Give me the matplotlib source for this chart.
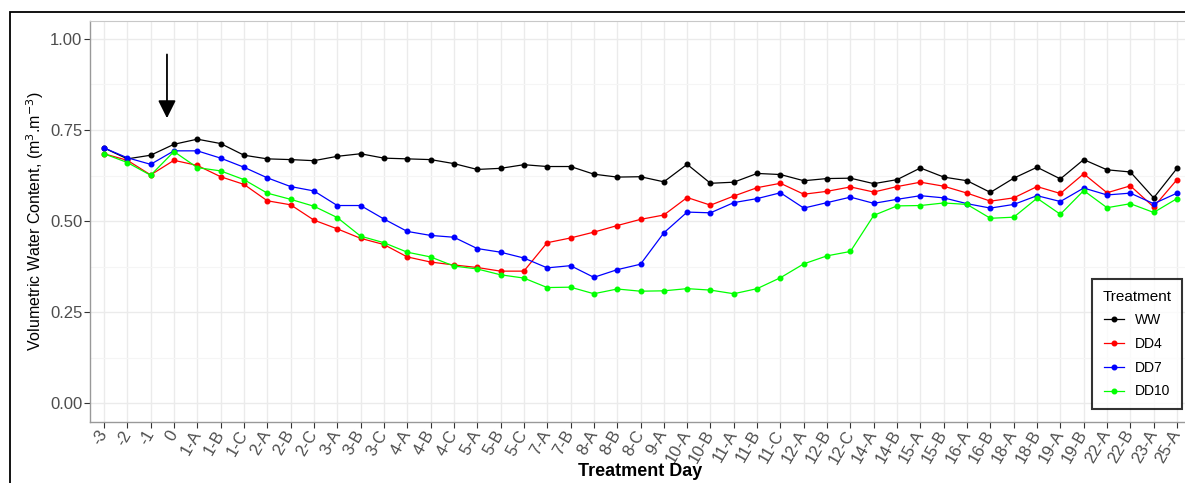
import matplotlib
matplotlib.use("Agg")
from matplotlib import pyplot as plt
from matplotlib.patches import Rectangle
import numpy as np

plt.rcParams['font.family'] = ['Liberation Sans', 'DejaVu Sans']

days = ["-3", "-2", "-1", "0", "1-A", "1-B", "1-C", "2-A", "2-B", "2-C",
        "3-A", "3-B", "3-C", "4-A", "4-B", "4-C", "5-A", "5-B", "5-C",
        "7-A", "7-B", "8-A", "8-B", "8-C", "9-A", "10-A", "10-B",
        "11-A", "11-B", "11-C", "12-A", "12-B", "12-C", "14-A", "14-B",
        "15-A", "15-B", "16-A", "16-B", "18-A", "18-B", "19-A", "19-B",
        "22-A", "22-B", "23-A", "25-A"]

ww = [0.701, 0.671, 0.681, 0.711, 0.725, 0.713, 0.681, 0.671, 0.669, 0.666,
      0.678, 0.685, 0.673, 0.671, 0.669, 0.658, 0.642, 0.645, 0.655,
      0.650, 0.650, 0.629, 0.621, 0.622, 0.608, 0.656, 0.604,
      0.607, 0.631, 0.628, 0.611, 0.617, 0.618, 0.603, 0.614,
      0.646, 0.621, 0.611, 0.579, 0.618, 0.648, 0.616, 0.669,
      0.641, 0.635, 0.564, 0.645]
dd4 = [0.685, 0.667, 0.627, 0.667, 0.653, 0.622, 0.601, 0.556, 0.545, 0.503,
       0.479, 0.453, 0.436, 0.402, 0.388, 0.380, 0.373, 0.363, 0.363,
       0.441, 0.454, 0.470, 0.488, 0.505, 0.517, 0.565, 0.544,
       0.569, 0.592, 0.604, 0.574, 0.582, 0.594, 0.580, 0.595,
       0.607, 0.596, 0.577, 0.555, 0.564, 0.595, 0.576, 0.630,
       0.578, 0.597, 0.539, 0.614]
dd7 = [0.701, 0.674, 0.656, 0.693, 0.693, 0.673, 0.648, 0.619, 0.595, 0.583,
       0.543, 0.543, 0.506, 0.472, 0.461, 0.456, 0.425, 0.415, 0.399,
       0.372, 0.378, 0.346, 0.367, 0.382, 0.468, 0.525, 0.523,
       0.551, 0.562, 0.578, 0.536, 0.551, 0.566, 0.549, 0.560,
       0.570, 0.564, 0.548, 0.536, 0.546, 0.570, 0.554, 0.591,
       0.572, 0.577, 0.548, 0.577]
dd10 = [0.685, 0.661, 0.626, 0.691, 0.647, 0.638, 0.614, 0.577, 0.560, 0.541,
        0.510, 0.459, 0.441, 0.415, 0.402, 0.377, 0.369, 0.353, 0.344,
        0.318, 0.319, 0.301, 0.314, 0.308, 0.309, 0.315, 0.311,
        0.301, 0.315, 0.345, 0.383, 0.405, 0.417, 0.516, 0.542,
        0.543, 0.550, 0.546, 0.508, 0.511, 0.563, 0.519, 0.584,
        0.537, 0.548, 0.524, 0.562]

treatments = ["WW", "DD4", "DD7", "DD10"]
colors = ["black", "#FF0000", "#0000FF", "#00FF00"]

W, H = 1185, 483
fig = plt.figure(figsize=(W / 100, H / 100), dpi=100)

# outer frame of the original image (cut at right/bottom)
fig.patches.append(Rectangle((10 / W, -0.05), 1.2, (H - 12) / H + 0.05,
                             transform=fig.transFigure, fill=False,
                             edgecolor="black", linewidth=1.3))

ax = fig.add_axes([90 / W, (H - 421.7) / H, 1101 / W, 401 / H])

x = np.arange(len(days))
for vals, name, col in zip([ww, dd4, dd7, dd10], treatments, colors):
    ax.plot(x, vals, color=col, linewidth=0.9, marker="o", markersize=3.3,
            label=name)

ax.set_xlim(-0.6, len(days) - 1 + 0.6)
ax.set_ylim(-0.05, 1.05)
ax.set_xticks(x)
ax.set_xticklabels(days, rotation=60, ha="right", va="center",
                   rotation_mode="anchor")
ax.set_yticks([0, 0.25, 0.5, 0.75, 1.0])
ax.set_yticklabels(["0.00", "0.25", "0.50", "0.75", "1.00"])
ax.set_yticks([0.125, 0.375, 0.625, 0.875], minor=True)
ax.tick_params(axis="both", labelsize=12, labelcolor="#4D4D4D",
               color="#333333", length=4, width=0.8)
ax.tick_params(axis="y", which="minor", length=0)
ax.tick_params(axis="y", pad=1.5)
ax.tick_params(axis="x", pad=3)

ax.grid(True, which="major", color="#EBEBEB", linewidth=1.0)
ax.grid(True, which="minor", axis="y", color="#F5F5F5", linewidth=0.8)
ax.set_axisbelow(True)

for side in ["left", "bottom"]:
    ax.spines[side].set_color("#999999")
    ax.spines[side].set_linewidth(1.0)
ax.spines["top"].set_color("#C8C8C8")
ax.spines["right"].set_visible(False)

ax.set_ylabel("Volumetric Water Content, (m$^3$.m$^{-3}$)", fontsize=11.5)
ax.yaxis.set_label_coords(-0.05, 0.5)
ax.yaxis.label.set_va("center")
ax.set_xlabel("Treatment Day", fontsize=13, fontweight="bold")
ax.xaxis.set_label_coords(0.4995, -0.125)
ax.xaxis.label.set_va("center")

ax.annotate("", xy=(2.7, 0.775), xytext=(2.7, 0.965),
            arrowprops=dict(arrowstyle="-|>,head_length=0.9,head_width=0.45",
                            mutation_scale=12, color="black", linewidth=1.3))

leg = ax.legend(title="Treatment", loc="lower right",
                bbox_to_anchor=(0.992, 0.032), borderaxespad=0,
                fontsize=10, title_fontsize=11,
                frameon=True, fancybox=False, handlelength=1.4,
                labelspacing=0.7, borderpad=0.75, handletextpad=0.8)
leg.get_frame().set_edgecolor("black")
leg.get_frame().set_linewidth(1.5)

fig.savefig("out.png", dpi=100)
